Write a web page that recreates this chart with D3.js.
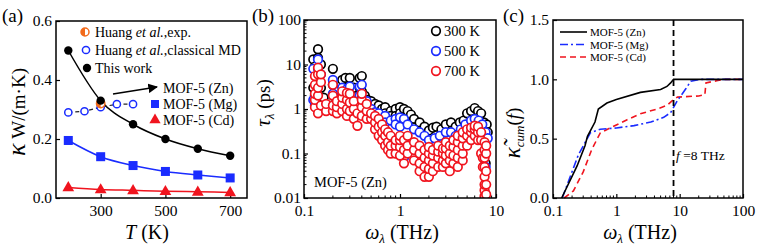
<!DOCTYPE html>
<html>
<head>
<meta charset="utf-8">
<script src="https://cdn.jsdelivr.net/npm/d3@7"></script>
<style>
  body { margin: 0; background: #fff; }
  svg, svg text { font-family: 'Liberation Serif', 'Times New Roman', 'DejaVu Serif', serif; }
  .tick text { font-size: 15.5px; fill: #000; }
  .tick line { stroke: #000; stroke-width: 1.2; }
  .domain { display: none; }
</style>
</head>
<body>
<svg id="fig" width="758" height="245"></svg>
<script>
// ---- panel (a): thermal conductivity vs temperature
const temps = [200, 300, 400, 500, 600, 700];
const kappaZn = [0.5, 0.33, 0.25, 0.2, 0.167, 0.143];
const kappaMg = [0.195, 0.14, 0.11, 0.09, 0.078, 0.068];
const kappaCd = [0.036, 0.029, 0.026, 0.023, 0.021, 0.019];
const huangMDTemps = [200, 250, 300, 350, 400];
const huangMD = [0.29, 0.294, 0.308, 0.318, 0.318];
const huangExpTemp = 300;
const huangExp = 0.32;
const tickA = [300, 500, 700];

// ---- panel (b): lifetimes [frequency THz, tau ps]
const tau300 = [
  [0.125, 3], [0.125, 13], [0.13, 2], [0.13, 9], [0.14, 22], [0.14, 14], [0.14, 5],
  [0.15, 10], [0.15, 3], [0.16, 1.8], [0.2, 8], [0.2, 3.5], [0.2, 2], [0.22, 2.5],
  [0.25, 4.5], [0.25, 2], [0.27, 5], [0.27, 3], [0.3, 5], [0.3, 2.5], [0.33, 3],
  [0.33, 1.5], [0.36, 1.2], [0.38, 5], [0.38, 3], [0.4, 5.5], [0.4, 2.5], [0.43, 2],
  [0.46, 1.6], [0.5, 1.5], [0.5, 1.1], [0.55, 1.3], [0.55, 0.9], [0.6, 1.2], [0.6, 0.8],
  [0.65, 1.0], [0.65, 0.7], [0.7, 1.1], [0.7, 0.8], [0.8, 0.9], [0.8, 0.7], [0.9, 1.0],
  [0.9, 0.7], [1.0, 1.1], [1.0, 0.8], [1.1, 1.0], [1.1, 0.65], [1.2, 0.9], [1.2, 0.5],
  [1.3, 0.75], [1.4, 0.6], [1.6, 0.5], [1.8, 0.4], [2.0, 0.33], [2.2, 0.38], [2.4, 0.4],
  [2.7, 0.35], [3.0, 0.45], [3.4, 0.5], [3.8, 0.4], [4.2, 0.5], [4.6, 0.55], [5.0, 0.8],
  [5.5, 0.9], [6.0, 1.05], [6.5, 0.9], [7.0, 0.8], [7.5, 0.5], [8.0, 0.45], [8.2, 0.3],
  [7.8, 0.06]
];
const tau500 = [
  [0.125, 1.6], [0.125, 8], [0.13, 1.2], [0.14, 13], [0.14, 8], [0.14, 3.5], [0.15, 6],
  [0.16, 1.1], [0.2, 4.5], [0.2, 2.2], [0.22, 1.5], [0.25, 3], [0.25, 1.5], [0.28, 2.8],
  [0.3, 3.2], [0.3, 1.8], [0.34, 1.2], [0.38, 3.2], [0.38, 2], [0.4, 3.5], [0.4, 1.8],
  [0.45, 1.5], [0.45, 1.0], [0.5, 1.0], [0.5, 0.7], [0.55, 0.85], [0.6, 0.8], [0.6, 0.55],
  [0.7, 0.7], [0.7, 0.5], [0.8, 0.55], [0.9, 0.6], [0.9, 0.45], [1.0, 0.65], [1.0, 0.4],
  [1.1, 0.08], [1.1, 0.6], [1.2, 0.45], [1.4, 0.35], [1.6, 0.3], [1.8, 0.25], [2.0, 0.2],
  [2.3, 0.22], [2.6, 0.25], [3.0, 0.3], [3.4, 0.3], [3.8, 0.25], [4.3, 0.35], [4.8, 0.45],
  [5.5, 0.55], [6.0, 0.6], [6.6, 0.55], [7.2, 0.45], [7.8, 0.05], [7.8, 0.3], [8.2, 0.22]
];
const tau700 = [
  [0.13, 1.1], [0.13, 1.6], [0.13, 2.2], [0.13, 3.5], [0.13, 5.5], [0.14, 0.8], [0.14, 2.0],
  [0.14, 3], [0.14, 6], [0.14, 8.5], [0.15, 1.2], [0.15, 4], [0.15, 6], [0.17, 0.9],
  [0.17, 1.3], [0.2, 0.9], [0.2, 1.2], [0.2, 2.0], [0.2, 3.5], [0.22, 0.8], [0.22, 1.1],
  [0.22, 1.5], [0.25, 0.9], [0.25, 1.3], [0.25, 1.8], [0.25, 2.5], [0.28, 0.7], [0.28, 1.0],
  [0.28, 1.6], [0.28, 2.3], [0.3, 0.9], [0.3, 1.4], [0.3, 2.2], [0.33, 0.6], [0.33, 1.0],
  [0.33, 1.5], [0.36, 0.42], [0.36, 0.8], [0.4, 0.7], [0.4, 1.1], [0.4, 1.6], [0.4, 2.2],
  [0.45, 0.6], [0.45, 0.9], [0.45, 1.3], [0.5, 0.6], [0.5, 0.8], [0.55, 0.35], [0.55, 0.5],
  [0.55, 0.7], [0.6, 0.25], [0.6, 0.4], [0.6, 0.6], [0.65, 0.2], [0.65, 0.3], [0.65, 0.45],
  [0.7, 0.15], [0.7, 0.25], [0.7, 0.35], [0.75, 0.12], [0.75, 0.18], [0.75, 0.3], [0.8, 0.1],
  [0.8, 0.15], [0.8, 0.25], [0.9, 0.1], [0.9, 0.15], [0.9, 0.2], [1.0, 0.09], [1.0, 0.14],
  [1.0, 0.2], [1.0, 0.25], [1.1, 0.06], [1.1, 0.12], [1.1, 0.2], [1.2, 0.1], [1.2, 0.15],
  [1.2, 0.25], [1.4, 0.07], [1.4, 0.12], [1.4, 0.18], [1.6, 0.04], [1.6, 0.06], [1.6, 0.1],
  [1.6, 0.15], [1.8, 0.03], [1.8, 0.05], [1.8, 0.08], [1.8, 0.12], [2.0, 0.03], [2.0, 0.045],
  [2.0, 0.07], [2.0, 0.1], [2.0, 0.14], [2.2, 0.04], [2.2, 0.06], [2.2, 0.09], [2.2, 0.12],
  [2.5, 0.05], [2.5, 0.08], [2.5, 0.11], [2.5, 0.15], [2.8, 0.05], [2.8, 0.07], [2.8, 0.1],
  [2.8, 0.13], [3.0, 0.06], [3.0, 0.09], [3.0, 0.13], [3.0, 0.18], [3.3, 0.04], [3.3, 0.07],
  [3.3, 0.1], [3.3, 0.15], [3.6, 0.06], [3.6, 0.09], [3.6, 0.14], [3.6, 0.2], [4.0, 0.05],
  [4.0, 0.08], [4.0, 0.12], [4.0, 0.18], [4.0, 0.25], [4.5, 0.07], [4.5, 0.1], [4.5, 0.15],
  [4.5, 0.22], [4.5, 0.3], [5.0, 0.15], [5.0, 0.25], [5.0, 0.35], [5.5, 0.2], [5.5, 0.3],
  [5.5, 0.38], [6.0, 0.25], [6.0, 0.35], [6.0, 0.42], [6.5, 0.2], [6.5, 0.3], [6.5, 0.4],
  [7.0, 0.1], [7.0, 0.2], [7.0, 0.3], [7.3, 0.05], [7.3, 0.08], [7.6, 0.011], [7.6, 0.015],
  [7.6, 0.02], [7.6, 0.03], [7.6, 0.05], [7.6, 0.08], [7.6, 0.12], [7.6, 0.18], [7.9, 0.012],
  [7.9, 0.02], [7.9, 0.04], [7.9, 0.1], [7.9, 0.15]
];
const tickBx = [0.1, 1, 10];
const tickBy = [0.01, 0.1, 1, 10, 100];

// ---- panel (c): normalised cumulative conductivity [frequency THz, value]
const cumZn = [
  [0.137, 0], [0.24, 0.27], [0.32, 0.44], [0.35, 0.52], [0.46, 0.64], [0.52, 0.75],
  [0.71, 0.8], [1.0, 0.83], [2.4, 0.89], [5.0, 0.915], [6.3, 0.94], [7.2, 0.97],
  [8.0, 1.0], [100, 1.0]
];
const cumMg = [
  [0.14, 0], [0.25, 0.36], [0.39, 0.55], [0.56, 0.58], [1.0, 0.59], [1.9, 0.61],
  [3.5, 0.64], [5.6, 0.68], [7.2, 0.72], [9.2, 0.82], [12.5, 0.92], [15, 0.985],
  [21, 1.0], [100, 1.0]
];
const cumCd = [
  [0.15, 0], [0.21, 0.06], [0.3, 0.22], [0.41, 0.41], [0.56, 0.55], [0.8, 0.59],
  [1.48, 0.66], [2.4, 0.71], [4.4, 0.75], [6.3, 0.78], [8.0, 0.83], [9.2, 0.85],
  [20, 0.86], [25, 0.87], [26, 0.97], [40, 0.99], [50, 1.0], [100, 1.0]
];
const cutFreq = 8;
const tickCx = [0.1, 1, 10, 100];
const tickCy = [0, 0.5, 1.0, 1.5];

const svg = d3.select('#fig');
const black = '#000', blue = '#1a2cff', red = '#f0141e', orange = '#f26a1b';
const serif = "'Liberation Serif', 'Times New Roman', serif";

const plotTop = 20, plotBottom = 198;

function frame(x0, x1, y0) {
  svg.append('rect')
    .attr('x', x0).attr('y', y0)
    .attr('width', x1 - x0).attr('height', plotBottom - y0)
    .attr('fill', 'none').attr('stroke', black).attr('stroke-width', 1.5);
}

// d3 axes put a sans-serif font on their group, take it off
function axis(g, ax) {
  g.call(ax).attr('font-family', serif).attr('font-size', null);
  g.selectAll('text').style('font-family', serif).style('font-size', '15.5px');
}

function logMinor(g, scale, orient, pos) {
  const [a, b] = scale.domain();
  const vals = [];
  for (let e = Math.floor(Math.log10(a)); e < Math.ceil(Math.log10(b)); e++) {
    for (let m = 2; m <= 9; m++) {
      const v = m * Math.pow(10, e);
      if (v > a && v < b) vals.push(v);
    }
  }
  g.selectAll(null).data(vals).enter().append('line')
    .attr('stroke', black).attr('stroke-width', 1)
    .each(function(v) {
      const s = d3.select(this);
      if (orient === 'x') s.attr('x1', scale(v)).attr('x2', scale(v)).attr('y1', pos).attr('y2', pos - 2.5);
      else s.attr('y1', scale(v)).attr('y2', scale(v)).attr('x1', pos).attr('x2', pos + 2.5);
    });
}

const fmt = d => String(d);

// ================= (a)
const xA = d3.scaleLinear().domain([162, 752]).range([56, 247]);
const yA = d3.scaleLinear().domain([0, 0.6]).range([plotBottom, 21]);
const gA = svg.append('g');

axis(gA.append('g').attr('transform', `translate(0,${plotBottom})`),
  d3.axisBottom(xA).tickValues(tickA).tickSizeInner(-4).tickSizeOuter(0).tickPadding(7));
axis(gA.append('g').attr('transform', 'translate(56,0)'),
  d3.axisLeft(yA).tickValues([0, 0.2, 0.4, 0.6]).tickFormat(d3.format('.1f'))
    .tickSizeInner(-4).tickSizeOuter(0).tickPadding(4));
frame(56, 247, 21);

const lineA = d3.line().x((d, i) => xA(temps[i])).y(d => yA(d)).curve(d3.curveMonotoneX);

[[kappaZn, black], [kappaMg, blue], [kappaCd, red]].forEach(([vals, c]) => {
  gA.append('path').attr('d', lineA(vals)).attr('fill', 'none').attr('stroke', c).attr('stroke-width', 1.5);
});

// Huang classical MD, dashed link
gA.append('path')
  .attr('d', d3.line().x((d, i) => xA(huangMDTemps[i])).y(d => yA(d))(huangMD))
  .attr('fill', 'none').attr('stroke', '#222').attr('stroke-width', 1.2).attr('stroke-dasharray', '4,3');

gA.selectAll('.md').data(huangMD).enter().append('circle')
  .attr('cx', (d, i) => xA(huangMDTemps[i])).attr('cy', d => yA(d)).attr('r', 3.6)
  .attr('fill', '#fff').attr('stroke', blue).attr('stroke-width', 1.5);

function halfDot(g, cx, cy, r) {
  g.append('circle').attr('cx', cx).attr('cy', cy).attr('r', r).attr('fill', '#fff');
  g.append('path')
    .attr('d', `M${cx},${cy - r} A${r},${r} 0 0 0 ${cx},${cy + r} Z`)
    .attr('fill', orange);
  g.append('circle').attr('cx', cx).attr('cy', cy).attr('r', r)
    .attr('fill', 'none').attr('stroke', orange).attr('stroke-width', 1.5);
}
halfDot(gA, xA(huangExpTemp), yA(huangExp), 4.2);

gA.selectAll('.zn').data(kappaZn).enter().append('circle')
  .attr('cx', (d, i) => xA(temps[i])).attr('cy', d => yA(d)).attr('r', 4.2).attr('fill', black);
gA.selectAll('.mg').data(kappaMg).enter().append('rect')
  .attr('x', (d, i) => xA(temps[i]) - 4.5).attr('y', d => yA(d) - 4.5)
  .attr('width', 9).attr('height', 9).attr('fill', blue);
const tri = d3.symbol().type(d3.symbolTriangle).size(60);
gA.selectAll('.cd').data(kappaCd).enter().append('path')
  .attr('d', tri).attr('transform', (d, i) => `translate(${xA(temps[i])},${yA(d) + 0.5})`)
  .attr('fill', red);

// legend (a)
const legA = gA.append('g').style('font-size', '14px');
halfDot(legA, 85, 32, 4);
legA.append('text').attr('x', 95).attr('y', 37)
  .html('Huang <tspan font-style="italic">et al.</tspan>,exp.');
legA.append('circle').attr('cx', 86).attr('cy', 50).attr('r', 3.6)
  .attr('fill', '#fff').attr('stroke', blue).attr('stroke-width', 1.5);
legA.append('text').attr('x', 95).attr('y', 55)
  .html('Huang <tspan font-style="italic">et al.</tspan>,classical MD');
legA.append('circle').attr('cx', 87).attr('cy', 68).attr('r', 4.2).attr('fill', black);
legA.append('text').attr('x', 95).attr('y', 73).text('This work');

svg.append('defs').append('marker')
  .attr('id', 'arr').attr('viewBox', '0 0 10 10').attr('refX', 9).attr('refY', 5)
  .attr('markerWidth', 6).attr('markerHeight', 6).attr('orient', 'auto')
  .append('path').attr('d', 'M0,0 L10,5 L0,10 Z').attr('fill', black);
legA.append('line').attr('x1', 113).attr('y1', 94).attr('x2', 157).attr('y2', 87)
  .attr('stroke', black).attr('stroke-width', 1.6).attr('marker-end', 'url(#arr)');
legA.append('text').attr('x', 163).attr('y', 93).text('MOF-5 (Zn)');
legA.append('rect').attr('x', 151).attr('y', 100).attr('width', 8).attr('height', 8).attr('fill', blue);
legA.append('text').attr('x', 163).attr('y', 109).text('MOF-5 (Mg)');
legA.append('path').attr('d', d3.symbol().type(d3.symbolTriangle).size(55))
  .attr('transform', 'translate(155,120)').attr('fill', red);
legA.append('text').attr('x', 163).attr('y', 125).text('MOF-5 (Cd)');

// labels (a)
svg.append('text').attr('x', 2).attr('y', 22).style('font-size', '19px').text('(a)');
svg.append('text').attr('transform', 'translate(25,112) rotate(-90)')
  .attr('text-anchor', 'middle').style('font-size', '19px')
  .html('<tspan font-style="italic" font-size="26px">κ</tspan>  W/(m·K)');
svg.append('text').attr('x', 147).attr('y', 239).attr('text-anchor', 'middle').style('font-size', '20px')
  .html('<tspan font-style="italic">T</tspan> (K)');

// ================= (b)
const xB = d3.scaleLog().domain([0.1, 10]).range([304, 496]);
const yB = d3.scaleLog().domain([0.01, 100]).range([plotBottom, plotTop]);
const gB = svg.append('g');

axis(gB.append('g').attr('transform', `translate(0,${plotBottom})`),
  d3.axisBottom(xB).tickValues(tickBx).tickFormat(fmt).tickSizeInner(-4).tickSizeOuter(0).tickPadding(7));
axis(gB.append('g').attr('transform', 'translate(304,0)'),
  d3.axisLeft(yB).tickValues(tickBy).tickFormat(fmt).tickSizeInner(-4).tickSizeOuter(0).tickPadding(3));
logMinor(gB, xB, 'x', plotBottom);
logMinor(gB, yB, 'y', 304);

svg.append('clipPath').attr('id', 'clipB').append('rect')
  .attr('x', 304).attr('y', plotTop).attr('width', 192).attr('height', plotBottom - plotTop);
const dotsB = gB.append('g').attr('clip-path', 'url(#clipB)');
[[tau300, black], [tau500, blue], [tau700, red]].forEach(([pts, c]) => {
  dotsB.append('g').selectAll('circle').data(pts).enter().append('circle')
    .attr('cx', d => xB(d[0])).attr('cy', d => yB(d[1])).attr('r', 4.3)
    .attr('fill', '#fff').attr('stroke', c).attr('stroke-width', 1.7);
});
frame(304, 496, plotTop);

const legB = gB.append('g').style('font-size', '14.5px');
[['300 K', black], ['500 K', blue], ['700 K', red]].forEach(([t, c], i) => {
  legB.append('circle').attr('cx', 436).attr('cy', 31 + i * 20).attr('r', 4.3)
    .attr('fill', '#fff').attr('stroke', c).attr('stroke-width', 1.7);
  legB.append('text').attr('x', 444).attr('y', 36 + i * 20).text(t);
});
gB.append('text').attr('x', 314).attr('y', 187).style('font-size', '14.5px').text('MOF-5 (Zn)');

svg.append('text').attr('x', 252).attr('y', 22).style('font-size', '19px').text('(b)');
svg.append('text').attr('transform', 'translate(270,103) rotate(-90)')
  .attr('text-anchor', 'middle').style('font-size', '19px')
  .html('<tspan font-style="italic" font-size="21px">τ</tspan><tspan font-style="italic" font-size="13px" dy="4">λ</tspan><tspan dy="-4"> (ps)</tspan>');
svg.append('text').attr('x', 402).attr('y', 239).attr('text-anchor', 'middle').style('font-size', '20px')
  .html('<tspan font-style="italic">ω</tspan><tspan font-style="italic" font-size="13px" dy="4">λ</tspan><tspan dy="-4"> (THz)</tspan>');

// ================= (c)
const xC = d3.scaleLog().domain([0.1, 100]).range([553, 743]);
const yC = d3.scaleLinear().domain([0, 1.5]).range([plotBottom, plotTop]);
const gC = svg.append('g');

axis(gC.append('g').attr('transform', `translate(0,${plotBottom})`),
  d3.axisBottom(xC).tickValues(tickCx).tickFormat(fmt).tickSizeInner(-4).tickSizeOuter(0).tickPadding(7));
axis(gC.append('g').attr('transform', 'translate(553,0)'),
  d3.axisLeft(yC).tickValues(tickCy).tickFormat(d3.format('.1f')).tickSizeInner(-4).tickSizeOuter(0).tickPadding(4));
logMinor(gC, xC, 'x', plotBottom);

const lineC = d3.line().x(d => xC(d[0])).y(d => yC(d[1]));
gC.append('path').attr('d', lineC(cumCd)).attr('fill', 'none').attr('stroke', red)
  .attr('stroke-width', 1.6).attr('stroke-dasharray', '6,4');
gC.append('path').attr('d', lineC(cumMg)).attr('fill', 'none').attr('stroke', blue)
  .attr('stroke-width', 1.6).attr('stroke-dasharray', '8,3,2,3');
gC.append('path').attr('d', lineC(cumZn)).attr('fill', 'none').attr('stroke', black)
  .attr('stroke-width', 1.6);
gC.append('line').attr('x1', xC(cutFreq)).attr('x2', xC(cutFreq)).attr('y1', plotTop).attr('y2', plotBottom)
  .attr('stroke', black).attr('stroke-width', 1.8).attr('stroke-dasharray', '6,4');
frame(553, 743, plotTop);

const legC = gC.append('g').style('font-size', '11px');
[['MOF-5 (Zn)', black, null], ['MOF-5 (Mg)', blue, '8,3,2,3'], ['MOF-5 (Cd)', red, '6,4']]
  .forEach(([t, c, dash], i) => {
    legC.append('line').attr('x1', 560).attr('x2', 587).attr('y1', 32 + i * 12.5).attr('y2', 32 + i * 12.5)
      .attr('stroke', c).attr('stroke-width', 1.6).attr('stroke-dasharray', dash);
    legC.append('text').attr('x', 590).attr('y', 36 + i * 12.5).text(t);
  });
gC.append('text').attr('x', 676).attr('y', 160).style('font-size', '13.5px')
  .html('<tspan font-style="italic">f</tspan> =8 THz');

svg.append('text').attr('x', 503).attr('y', 22).style('font-size', '19px').text('(c)');
svg.append('text').attr('transform', 'translate(520,133) rotate(-90)')
  .attr('text-anchor', 'middle').style('font-size', '19px')
  .html('<tspan font-style="italic" font-size="23px">κ̃</tspan><tspan font-style="italic" font-size="13px" dy="4">cum</tspan><tspan dy="-4">(</tspan><tspan font-style="italic">f</tspan>)');
svg.append('text').attr('x', 640).attr('y', 239).attr('text-anchor', 'middle').style('font-size', '20px')
  .html('<tspan font-style="italic">ω</tspan><tspan font-style="italic" font-size="13px" dy="4">λ</tspan><tspan dy="-4"> (THz)</tspan>');
</script>
</body>
</html>
